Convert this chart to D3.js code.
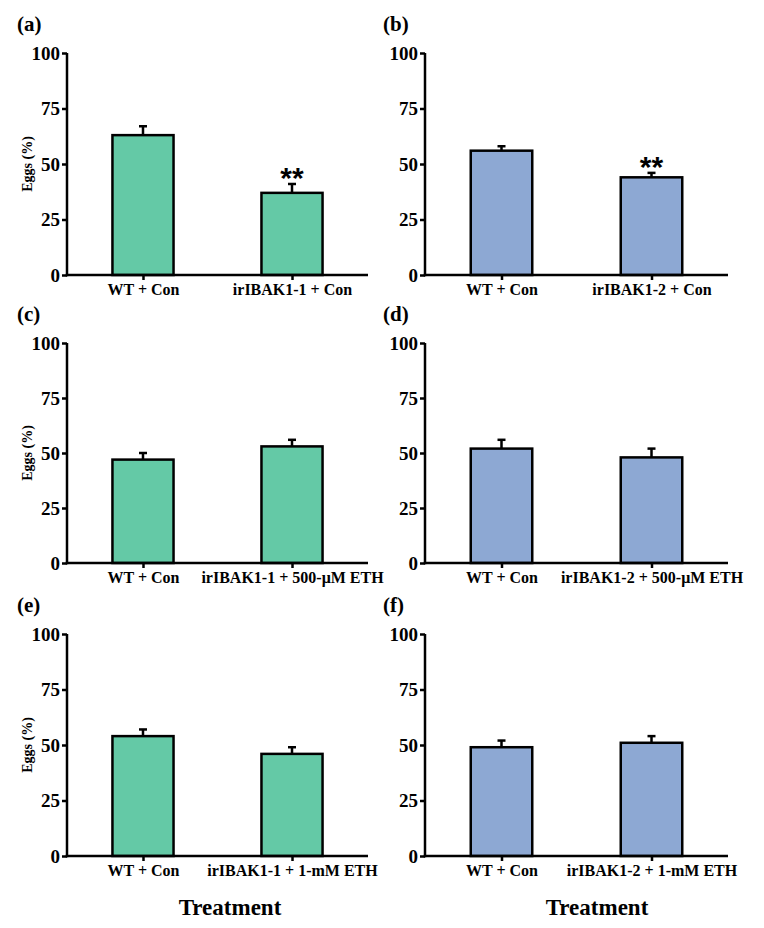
<!DOCTYPE html>
<html><head><meta charset="utf-8">
<script src="https://cdn.jsdelivr.net/npm/d3@7"></script>
<style>body{margin:0;background:#fff}</style>
</head><body>
<svg id="c" width="764" height="928"></svg>
<script>
const panelLabels = ["(a)","(b)","(c)","(d)","(e)","(f)"];
const categories = [
  ["WT + Con","irIBAK1-1 + Con"],
  ["WT + Con","irIBAK1-2 + Con"],
  ["WT + Con","irIBAK1-1 + 500-\u03bcM ETH"],
  ["WT + Con","irIBAK1-2 + 500-\u03bcM ETH"],
  ["WT + Con","irIBAK1-1 + 1-mM ETH"],
  ["WT + Con","irIBAK1-2 + 1-mM ETH"]
];
const means = [[63,37],[56,44],[47,53],[52,48],[54,46],[49,51]];
const errors = [[4,4],[2,2],[3,3],[4,4],[3,3],[3,3]];
const signif = [["","**"],["","**"],["",""],["",""],["",""],["",""]];
const yTicks = [0,25,50,75,100];
const colors = ["#64c9a6","#8da8d3"];

const svg = d3.select("#c");
const font = "Liberation Serif";
const rowsTop = [53, 343, 634], rowsBot = [275, 563, 856];
const colX0 = [67, 425], colX1 = [368, 728];

for (let p=0;p<6;p++){
  const r = Math.floor(p/2), c = p%2;
  const g = svg.append("g");
  const y = d3.scaleLinear().domain([0,100]).range([rowsBot[r], rowsTop[r]]);
  const x = d3.scalePoint().domain(categories[p]).range([colX0[c], colX1[c]]).padding(0.51);
  const bw = x.step()*0.41;
  g.selectAll("rect.bar").data(categories[p]).enter().append("rect")
    .attr("x", d=>x(d)-bw/2).attr("width", bw)
    .attr("y", (d,i)=>y(means[p][i])).attr("height", (d,i)=>y(0)-y(means[p][i]))
    .attr("fill", colors[c]).attr("stroke","#000").attr("stroke-width",2.5);
  categories[p].forEach((d,i)=>{
    const cx = x(d);
    const yt = y(means[p][i]+errors[p][i]);
    g.append("line").attr("x1",cx).attr("x2",cx).attr("y1",y(means[p][i])).attr("y2",yt)
      .attr("stroke","#000").attr("stroke-width",2.5);
    g.append("line").attr("x1",cx-4).attr("x2",cx+4).attr("y1",yt).attr("y2",yt)
      .attr("stroke","#000").attr("stroke-width",2.5);
    if (signif[p][i]) {
      g.append("text").attr("x",cx).attr("y",yt+4).attr("text-anchor","middle")
        .attr("font-family","Liberation Sans").attr("font-weight","bold").attr("font-size",30)
        .text(signif[p][i]);
    }
  });
  const ya = g.append("g").attr("transform",`translate(${colX0[c]},0)`)
    .call(d3.axisLeft(y).tickValues(yTicks).tickSize(5).tickPadding(2).tickSizeOuter(0));
  ya.select(".domain").attr("stroke-width",2.5).attr("d",`M0,${rowsBot[r]+1.25}V${rowsTop[r]}`);
  ya.selectAll(".tick line").attr("stroke-width",2.5);
  ya.selectAll(".tick text").attr("font-family",font).attr("font-weight","bold").attr("font-size",19).attr("fill","#000").attr("dy","0.34em");
  const xa = g.append("g").attr("transform",`translate(0,${rowsBot[r]})`)
    .call(d3.axisBottom(x).tickSize(5).tickPadding(4).tickSizeOuter(0));
  xa.select(".domain").attr("stroke-width",2.5).attr("d",`M${colX0[c]-1.25},0H${colX1[c]}`);
  xa.selectAll(".tick line").attr("stroke-width",2.5);
  xa.selectAll(".tick text").attr("font-family",font).attr("font-weight","bold").attr("font-size",16).attr("fill","#000");
  g.append("text").attr("x", c===0 ? 17 : 383).attr("y", rowsTop[r]-22)
    .attr("font-family",font).attr("font-weight","bold").attr("font-size",21).text(panelLabels[p]);
  if (c===0) {
    g.append("text").attr("transform",`translate(32,${(rowsTop[r]+rowsBot[r])/2}) rotate(-90)`)
      .attr("text-anchor","middle").attr("font-family",font).attr("font-weight","bold").attr("font-size",14).text("Eggs (%)");
  }
}
svg.append("text").attr("x",230).attr("y",915).attr("text-anchor","middle").attr("font-family",font).attr("font-weight","bold").attr("font-size",23).text("Treatment");
svg.append("text").attr("x",597).attr("y",915).attr("text-anchor","middle").attr("font-family",font).attr("font-weight","bold").attr("font-size",23).text("Treatment");
</script>
</body></html>
